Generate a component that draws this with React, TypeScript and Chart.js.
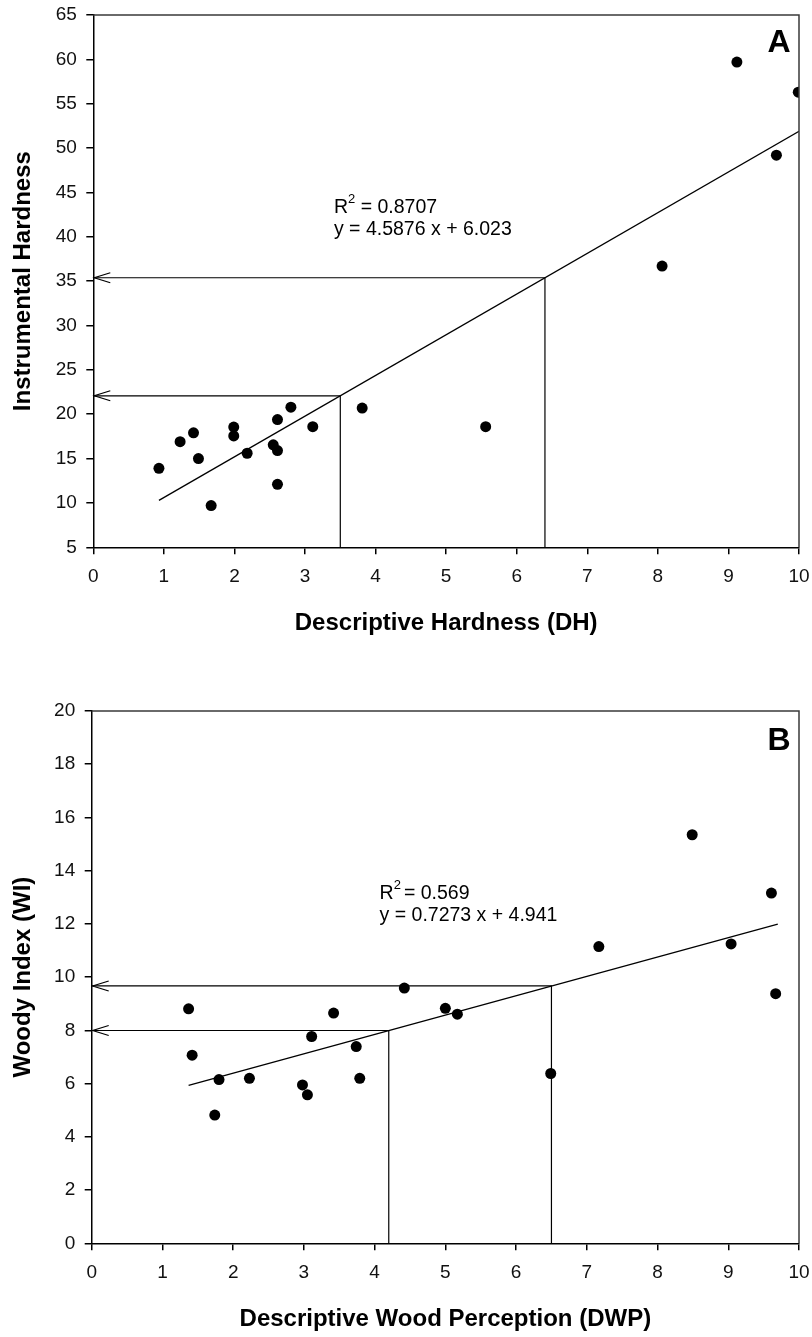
import React, { useEffect, useRef } from "react";
import { Chart, registerables } from "chart.js";

Chart.register(...registerables);

const FONT = "'Liberation Sans', Arial, Helvetica, sans-serif";

// ---------- Panel A data ----------
const dhValues = [0.93, 1.23, 1.42, 1.49, 1.67, 1.99, 1.99, 2.18, 2.55, 2.61, 2.61, 2.61, 2.8, 3.11, 3.81, 5.56, 8.06, 9.12, 9.68, 9.99];
const instrumentalHardness = [13.9, 16.9, 17.9, 15.0, 9.7, 18.55, 17.55, 15.6, 16.55, 19.4, 15.9, 12.1, 20.8, 18.6, 20.7, 18.6, 36.7, 59.7, 49.2, 56.3];
const xTicksA = [0, 1, 2, 3, 4, 5, 6, 7, 8, 9, 10];
const yTicksA = [5, 10, 15, 20, 25, 30, 35, 40, 45, 50, 55, 60, 65];
const slopeA = 4.5876;
const interceptA = 6.023;
const trendRangeA = [0.93, 10];
const guideXA = [3.5, 6.4];

// ---------- Panel B data ----------
const dwpValues = [1.37, 1.42, 1.74, 1.8, 2.23, 2.98, 3.05, 3.11, 3.42, 3.74, 3.79, 4.42, 5.0, 5.17, 6.49, 7.17, 8.49, 9.04, 9.61, 9.67];
const woodyIndex = [8.81, 7.07, 4.82, 6.15, 6.2, 5.95, 5.58, 7.77, 8.65, 7.39, 6.2, 9.59, 8.83, 8.61, 6.38, 11.15, 15.35, 11.25, 13.16, 9.38];
const xTicksB = [0, 1, 2, 3, 4, 5, 6, 7, 8, 9, 10];
const yTicksB = [0, 2, 4, 6, 8, 10, 12, 14, 16, 18, 20];
const slopeB = 0.7273;
const interceptB = 4.941;
const trendRangeB = [1.37, 9.7];
const guideXB = [4.2, 6.5];

type Spec = {
  xs: number[];
  ys: number[];
  xTicks: number[];
  yTicks: number[];
  slope: number;
  intercept: number;
  trendX: number[];
  guideX: number[];
  r2Rest: string;
  r2Gap: number;
  eq: string;
  letter: string;
  letterDrop: number;
  xTitle: string;
  yTitle: string;
  textAt: { x: number; y: number };
  canvasH: number;
  padTop: number;
  padBottom: number;
  yAxisWidth: number;
};

const specA: Spec = {
  xs: dhValues,
  ys: instrumentalHardness,
  xTicks: xTicksA,
  yTicks: yTicksA,
  slope: slopeA,
  intercept: interceptA,
  trendX: trendRangeA,
  guideX: guideXA,
  r2Rest: " = 0.8707",
  r2Gap: 0,
  eq: "y = 4.5876 x + 6.023",
  letter: "A",
  letterDrop: 37,
  xTitle: "Descriptive Hardness (DH)",
  yTitle: "Instrumental Hardness",
  textAt: { x: 3.41, y: 42.7 },
  canvasH: 668,
  padTop: 15,
  padBottom: 30.7,
  yAxisWidth: 93.3,
};

const specB: Spec = {
  xs: dwpValues,
  ys: woodyIndex,
  xTicks: xTicksB,
  yTicks: yTicksB,
  slope: slopeB,
  intercept: interceptB,
  trendX: trendRangeB,
  guideX: guideXB,
  r2Rest: "= 0.569",
  r2Gap: 3,
  eq: "y = 0.7273 x + 4.941",
  letter: "B",
  letterDrop: 39,
  xTitle: "Descriptive Wood Perception (DWP)",
  yTitle: "Woody Index (WI)",
  textAt: { x: 4.07, y: 12.94 },
  canvasH: 669,
  padTop: 43,
  padBottom: 3.7,
  yAxisWidth: 91.7,
};

function makeConfig(spec: Spec): any {
  const points = spec.xs.map((x, i) => ({ x, y: spec.ys[i] }));
  const trend = spec.trendX.map((x) => ({ x, y: spec.slope * x + spec.intercept }));
  const xMin = spec.xTicks[0];
  const xMax = spec.xTicks[spec.xTicks.length - 1];
  const yMin = spec.yTicks[0];
  const yMax = spec.yTicks[spec.yTicks.length - 1];
  const guideLevels = spec.guideX.map((gx) => spec.slope * gx + spec.intercept);
  const guides = spec.guideX.map((gx, i) => [
    { x: xMin, y: guideLevels[i] },
    { x: gx, y: guideLevels[i] },
    { x: gx, y: yMin },
  ]);

  const decor = {
    id: "decor",
    afterDatasetsDraw(chart: any) {
      const { ctx, chartArea, scales } = chart;
      const xs = scales.x;
      const ys = scales.y;
      ctx.save();
      // top & right frame
      ctx.strokeStyle = "#3a3a3a";
      ctx.lineWidth = 1.5;
      ctx.beginPath();
      ctx.moveTo(chartArea.left, chartArea.top);
      ctx.lineTo(chartArea.right, chartArea.top);
      ctx.lineTo(chartArea.right, chartArea.bottom);
      ctx.stroke();
      // arrowheads
      ctx.strokeStyle = "#000";
      ctx.lineWidth = 1.2;
      guideLevels.forEach((gy) => {
        const tx = xs.getPixelForValue(xMin);
        const ty = ys.getPixelForValue(gy);
        ctx.beginPath();
        ctx.moveTo(tx + 17, ty - 5);
        ctx.lineTo(tx + 1, ty);
        ctx.lineTo(tx + 17, ty + 5);
        ctx.stroke();
      });
      // equation text
      ctx.fillStyle = "#000";
      ctx.textBaseline = "alphabetic";
      ctx.textAlign = "left";
      const px = xs.getPixelForValue(spec.textAt.x);
      const py = ys.getPixelForValue(spec.textAt.y);
      ctx.font = `19.5px ${FONT}`;
      ctx.fillText("R", px, py);
      let w = ctx.measureText("R").width;
      ctx.font = `13px ${FONT}`;
      ctx.fillText("2", px + w, py - 9.5);
      w += ctx.measureText("2").width + spec.r2Gap;
      ctx.font = `19.5px ${FONT}`;
      ctx.fillText(spec.r2Rest, px + w, py);
      ctx.fillText(spec.eq, px, py + 22);
      // panel letter
      ctx.font = `bold 32px ${FONT}`;
      ctx.textAlign = "center";
      ctx.fillText(spec.letter, chartArea.right - 20, chartArea.top + spec.letterDrop);
      ctx.restore();
    },
  };

  const axisCommon = {
    type: "linear",
    grid: {
      display: true,
      drawOnChartArea: false,
      drawTicks: true,
      tickLength: 7,
      color: "#000",
      lineWidth: 1.5,
    },
    border: { display: true, color: "#000", width: 1.5 },
  };

  return {
    type: "scatter",
    data: {
      datasets: [
        {
          type: "scatter",
          data: points,
          pointRadius: 5.5,
          pointHoverRadius: 5.5,
          backgroundColor: "#000",
          borderWidth: 0,
          order: 0,
        },
        {
          type: "line",
          data: trend,
          borderColor: "#000",
          borderWidth: 1.3,
          pointRadius: 0,
          fill: false,
          tension: 0,
          order: 1,
        },
        ...guides.map((g) => ({
          type: "line",
          data: g,
          borderColor: "#000",
          borderWidth: 1.2,
          pointRadius: 0,
          fill: false,
          tension: 0,
          order: 2,
        })),
      ],
    },
    options: {
      responsive: false,
      animation: false,
      events: [],
      layout: { padding: { top: spec.padTop, right: 13, bottom: spec.padBottom, left: 0 } },
      plugins: { legend: { display: false }, tooltip: { enabled: false }, title: { display: false } },
      scales: {
        x: {
          ...axisCommon,
          position: "bottom",
          min: xMin,
          max: xMax,
          afterBuildTicks: (s: any) => {
            s.ticks = spec.xTicks.map((v) => ({ value: v }));
          },
          afterFit: (s: any) => {
            s.height = 90;
            s.paddingLeft = 0;
            s.paddingRight = 0;
          },
          ticks: {
            font: { size: 19, family: FONT },
            color: "#111",
            padding: 11,
            maxRotation: 0,
            autoSkip: false,
            callback: (v: any) => String(v),
          },
          title: {
            display: true,
            text: spec.xTitle,
            color: "#000",
            font: { size: 24, weight: "bold", family: FONT },
            padding: { top: 0, bottom: 0 },
          },
        },
        y: {
          ...axisCommon,
          position: "left",
          min: yMin,
          max: yMax,
          afterBuildTicks: (s: any) => {
            s.ticks = spec.yTicks.map((v) => ({ value: v }));
          },
          afterFit: (s: any) => {
            s.width = spec.yAxisWidth;
            s.paddingTop = 0;
            s.paddingBottom = 0;
          },
          ticks: {
            font: { size: 19, family: FONT },
            color: "#111",
            padding: 9.5,
            autoSkip: false,
            callback: (v: any) => String(v),
          },
          title: {
            display: true,
            text: spec.yTitle,
            color: "#000",
            font: { size: 24, weight: "bold", family: FONT },
            padding: { top: 9, bottom: 0 },
          },
        },
      },
    },
    plugins: [decor],
  };
}

function Panel({ spec, top }: { spec: Spec; top: number }) {
  const ref = useRef<HTMLCanvasElement>(null);
  useEffect(() => {
    const chart = new Chart(ref.current as HTMLCanvasElement, makeConfig(spec));
    return () => chart.destroy();
  }, [spec]);
  return (
    <div style={{ position: "absolute", left: 0, top, width: 812, height: spec.canvasH }}>
      <canvas ref={ref} width={812} height={spec.canvasH} style={{ width: 812, height: spec.canvasH, display: "block" }} />
    </div>
  );
}

export default function App() {
  return (
    <div style={{ position: "absolute", left: 0, top: 0, width: 812, height: 1337, background: "#fff" }}>
      <Panel spec={specA} top={0} />
      <Panel spec={specB} top={668} />
    </div>
  );
}
